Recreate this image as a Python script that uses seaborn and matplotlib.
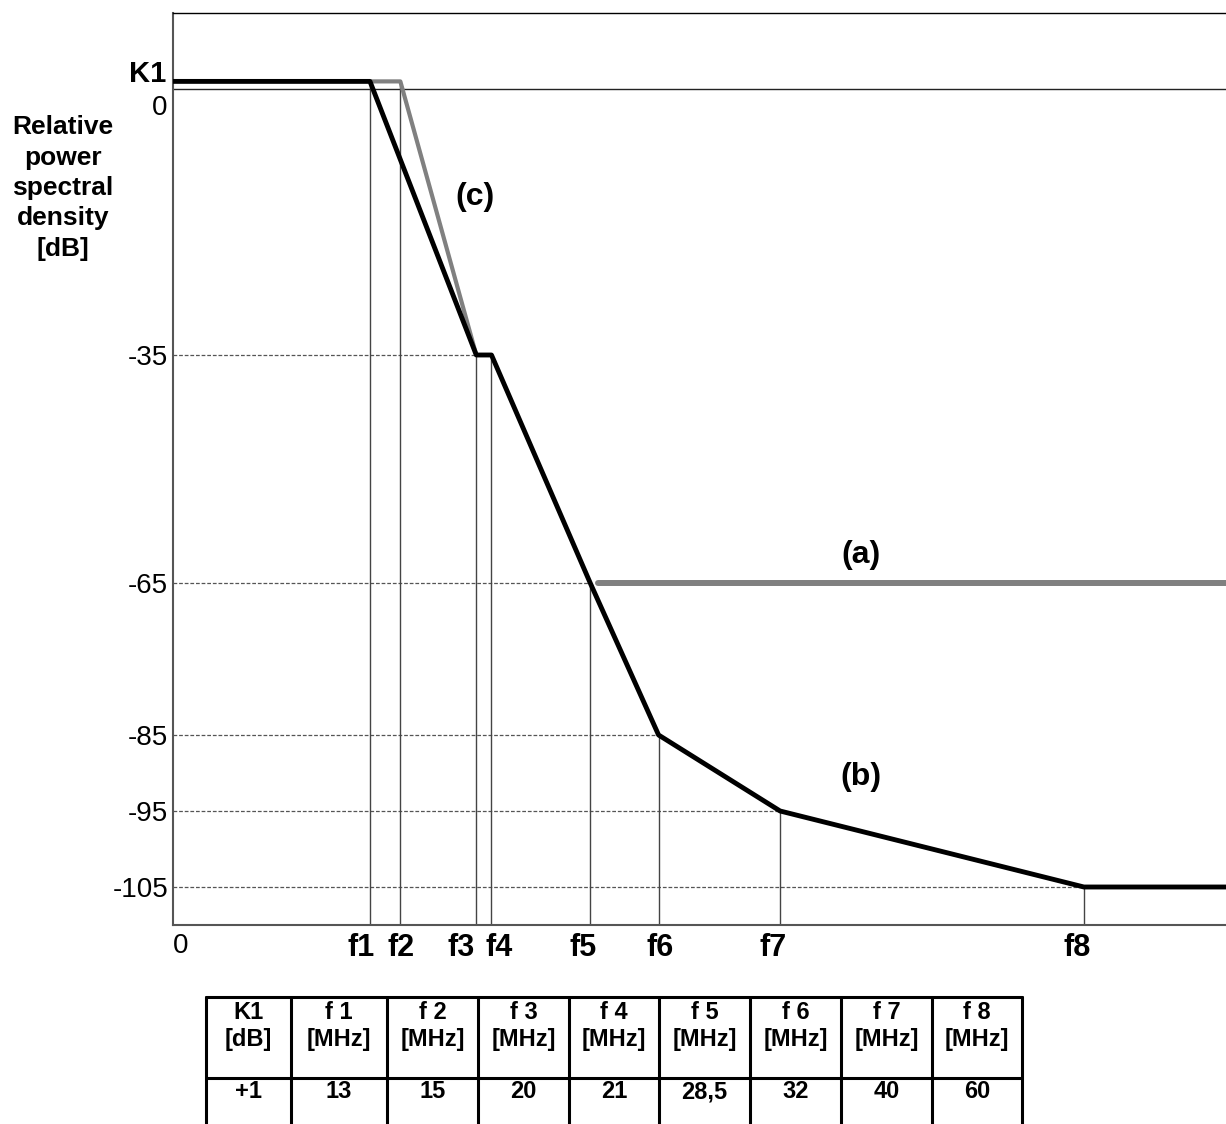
import matplotlib
matplotlib.use("Agg")
import matplotlib.pyplot as plt
import seaborn as sns

# ---------------- data ----------------
K1 = 1
f_names = ["f1", "f2", "f3", "f4", "f5", "f6", "f7", "f8"]
f_pos = [13, 15, 20, 21, 27.5, 32, 40, 60]          # position on drawing (MHz)
f_top = [1, 1, -35, -35, -65, -85, -95, -105]       # level reached by each vertical line
mask_b_x = [0, 13, 20, 21, 27.5, 32, 40, 60, 70]
mask_b_y = [1, 1, -35, -35, -65, -85, -95, -105, -105]
mask_c_x = [13, 15, 20]
mask_c_y = [1, 1, -35]
mask_a_x = [28, 70]
mask_a_y = [-65, -65]
level_ticks = [-35, -65, -85, -95, -105]
level_end = [20, 27.5, 32, 40, 60]
table_headers = ["K1\n[dB]", "f 1\n[MHz]", "f 2\n[MHz]", "f 3\n[MHz]", "f 4\n[MHz]",
                 "f 5\n[MHz]", "f 6\n[MHz]", "f 7\n[MHz]", "f 8\n[MHz]"]
table_values = ["+1", "13", "15", "20", "21", "28,5", "32", "40", "60"]

# ---------------- style ----------------
sns.set_style("white")
plt.rcParams["font.family"] = ["Liberation Sans", "DejaVu Sans"]
plt.rcParams["text.color"] = "black"
plt.rcParams["ytick.color"] = "black"
plt.rcParams["xtick.color"] = "black"

W, H = 1226, 1124
fig = plt.figure(figsize=(W / 100, H / 100), dpi=100)

px_per_mhz = 15.19
x0_px = 172.5
top_px, bot_px = 13, 925
ax = fig.add_axes([x0_px / W, 1 - bot_px / H, 70 * px_per_mhz / W, (bot_px - top_px) / H])
ax.set_xlim(0, 70)
ax.set_ylim(-110, 10)

# thin helper lines
ax.axhline(0, color="#222222", lw=1.0, zorder=1)
for lv, xe in zip(level_ticks, level_end):
    ax.plot([0, xe], [lv, lv], color="#555555", lw=0.9, ls=(0, (3, 1.5)), zorder=1)
for xf, yt in zip(f_pos, f_top):
    ax.plot([xf, xf], [-110, yt], color="#444444", lw=1.0, zorder=1)

# main curves
sns.lineplot(x=mask_c_x, y=mask_c_y, color="#808080", linewidth=3.0, sort=False,
             estimator=None, ax=ax, zorder=3)
sns.lineplot(x=mask_a_x, y=mask_a_y, color="#808080", linewidth=4.3, sort=False,
             estimator=None, ax=ax, zorder=3)
sns.lineplot(x=mask_b_x, y=mask_b_y, color="black", linewidth=3.5, sort=False,
             estimator=None, ax=ax, zorder=4)

# spines
for s in ["left", "bottom"]:
    ax.spines[s].set_color("#555555")
    ax.spines[s].set_linewidth(1.5)
ax.spines["top"].set_color("black")
ax.spines["top"].set_linewidth(1.0)
ax.spines["right"].set_visible(False)

# y ticks
ax.set_yticks(level_ticks)
ax.set_yticklabels([str(v) for v in level_ticks], fontsize=20)
ax.tick_params(axis="y", length=0, pad=3, colors="black")
ax.set_xticks([])

ax.annotate("K1", xy=(0, K1), xytext=(-6, 7), textcoords="offset pixels",
            ha="right", va="center", fontsize=21, fontweight="bold")
ax.annotate("0", xy=(0, 0), xytext=(-5, -19), textcoords="offset pixels",
            ha="right", va="center", fontsize=20)

# x labels
ax.annotate("0", xy=(0, 0), xycoords=("data", "axes fraction"), xytext=(8, -21),
            textcoords="offset pixels", ha="center", va="center", fontsize=20)
label_dx = [-9, 1, -15, 8, -7, 2, -7, -7]
for name, xf, dx in zip(f_names, f_pos, label_dx):
    ax.annotate(name, xy=(xf, 0), xycoords=("data", "axes fraction"), xytext=(dx, -23),
                textcoords="offset pixels", ha="center", va="center",
                fontsize=22, fontweight="bold")

# curve labels
ax.text(19.9, -14.2, "(c)", fontsize=23, fontweight="bold", ha="center", va="center")
ax.text(45.3, -61.3, "(a)", fontsize=23, fontweight="bold", ha="center", va="center")
ax.text(45.3, -90.5, "(b)", fontsize=23, fontweight="bold", ha="center", va="center")

# y label
fig.text(63 / W, 1 - 188 / H, "Relative\npower\nspectral\ndensity\n[dB]",
         ha="center", va="center", multialignment="center",
         fontsize=19, fontweight="bold", linespacing=1.33)

# ---------------- table ----------------
tab = fig.add_axes([0, 0, 1, 1])
tab.set_xlim(0, W)
tab.set_ylim(H, 0)
tab.axis("off")
col_x = [206, 291, 387, 478, 569, 659, 750, 841, 932, 1022]
row_y = [997, 1078, 1160]
for cx in col_x:
    tab.plot([cx, cx], [row_y[0], row_y[-1]], color="black", lw=2.2)
for ry in row_y:
    tab.plot([col_x[0], col_x[-1]], [ry, ry], color="black", lw=2.2)
for i, (hd, val) in enumerate(zip(table_headers, table_values)):
    cxm = (col_x[i] + col_x[i + 1]) / 2
    tab.text(cxm, 1026, hd, ha="center", va="center", multialignment="center",
             fontsize=17, fontweight="bold", linespacing=1.25)
    tab.text(cxm, 1092, val, ha="center", va="center", fontsize=17, fontweight="bold")

fig.savefig("out.png", dpi=100)
